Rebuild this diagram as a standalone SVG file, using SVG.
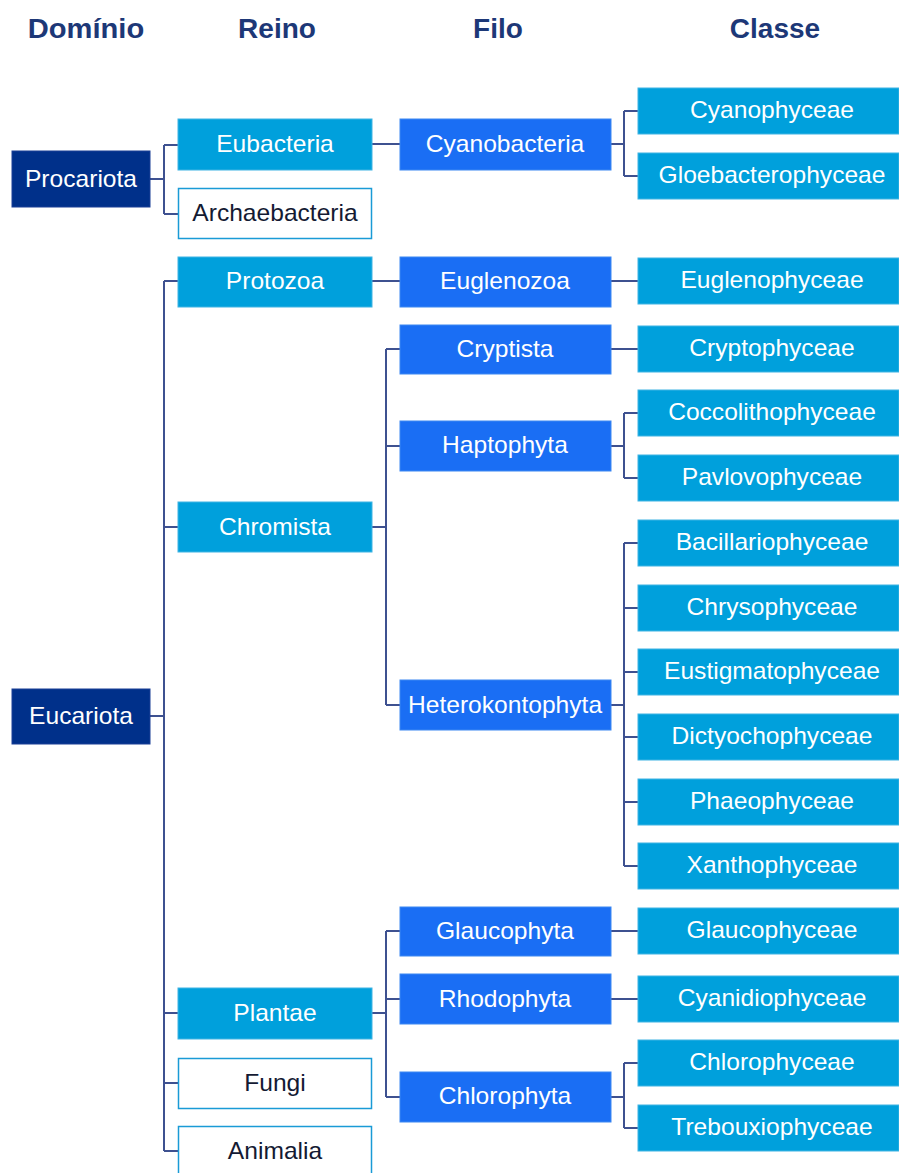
<svg xmlns="http://www.w3.org/2000/svg" width="899" height="1173" viewBox="0 0 899 1173">
<style>
.hd{font-family:"Liberation Sans",Arial,sans-serif;font-weight:bold;font-size:28px;fill:#1d3877;text-anchor:middle}
.t{font-family:"Liberation Sans",Arial,sans-serif;font-size:23px;fill:#ffffff;text-anchor:middle}
.tk{fill:#141a33}
.dom{fill:#00308a;stroke:#1a3f96;stroke-width:1}
.rei{fill:#00a0dc;stroke:#3fb4e3;stroke-width:1}
.fil{fill:#1a6ef4;stroke:#3d88f2;stroke-width:1}
.cls{fill:#00a0dc;stroke:#3fb4e3;stroke-width:1}
.wht{fill:#ffffff;stroke:#1a9bd6;stroke-width:1.5}
.c{fill:none;stroke:#3e5190;stroke-width:2}
</style>
<g id="headers">
<text class="hd" transform="translate(86 38) scale(1.04 1)">Domínio</text>
<text class="hd" x="277" y="38">Reino</text>
<text class="hd" x="498" y="38">Filo</text>
<text class="hd" x="775" y="38">Classe</text>
</g>
<g id="connectors">
<path class="c" d="M150 179H164M164 145V214M164 145H178M164 214H178"/>
<path class="c" d="M372 144H400"/>
<path class="c" d="M611 144H624M624 111V176M624 111H638M624 176H638"/>
<path class="c" d="M150 716H164M164 281V1151M164 281H178M164 527H178M164 1013H178M164 1083H178M164 1151H178"/>
<path class="c" d="M372 281H400M611 281H638"/>
<path class="c" d="M372 527H386M386 349V705M386 349H400M386 446H400M386 705H400"/>
<path class="c" d="M611 349H638"/>
<path class="c" d="M611 446H624M624 413V478M624 413H638M624 478H638"/>
<path class="c" d="M611 705H624M624 543V866M624 543H638M624 608H638M624 672H638M624 737H638M624 802H638M624 866H638"/>
<path class="c" d="M372 1013H386M386 931V1097M386 931H400M386 999H400M386 1097H400"/>
<path class="c" d="M611 931H638M611 999H638"/>
<path class="c" d="M611 1097H624M624 1063V1128M624 1063H638M624 1128H638"/>
</g>
<g id="procariota"><rect class="dom" x="12" y="151" width="138" height="56"/><text class="t" transform="translate(81 187) scale(1.07 1)">Procariota</text></g>
<g id="eucariota"><rect class="dom" x="12" y="689" width="138" height="55"/><text class="t" transform="translate(81 724) scale(1.07 1)">Eucariota</text></g>
<g id="eubacteria"><rect class="rei" x="178" y="119" width="194" height="51"/><text class="t" transform="translate(275 152) scale(1.07 1)">Eubacteria</text></g>
<g id="archaebacteria"><rect class="wht" x="178.5" y="188.5" width="193" height="50"/><text class="t tk" transform="translate(275 221) scale(1.07 1)">Archaebacteria</text></g>
<g id="protozoa"><rect class="rei" x="178" y="257" width="194" height="50"/><text class="t" transform="translate(275 289) scale(1.07 1)">Protozoa</text></g>
<g id="chromista"><rect class="rei" x="178" y="502" width="194" height="50"/><text class="t" transform="translate(275 535) scale(1.07 1)">Chromista</text></g>
<g id="plantae"><rect class="rei" x="178" y="988" width="194" height="51"/><text class="t" transform="translate(275 1021) scale(1.07 1)">Plantae</text></g>
<g id="fungi"><rect class="wht" x="178.5" y="1058.5" width="193" height="50"/><text class="t tk" transform="translate(275 1091) scale(1.07 1)">Fungi</text></g>
<g id="animalia"><rect class="wht" x="178.5" y="1126.5" width="193" height="52"/><text class="t tk" transform="translate(275 1159) scale(1.07 1)">Animalia</text></g>
<g id="cyanobacteria"><rect class="fil" x="400" y="119" width="211" height="51"/><text class="t" transform="translate(505 152) scale(1.07 1)">Cyanobacteria</text></g>
<g id="euglenozoa"><rect class="fil" x="400" y="257" width="211" height="50"/><text class="t" transform="translate(505 289) scale(1.07 1)">Euglenozoa</text></g>
<g id="cryptista"><rect class="fil" x="400" y="325" width="211" height="49"/><text class="t" transform="translate(505 357) scale(1.07 1)">Cryptista</text></g>
<g id="haptophyta"><rect class="fil" x="400" y="421" width="211" height="50"/><text class="t" transform="translate(505 453) scale(1.07 1)">Haptophyta</text></g>
<g id="heterokontophyta"><rect class="fil" x="400" y="680" width="211" height="50"/><text class="t" transform="translate(505 713) scale(1.07 1)">Heterokontophyta</text></g>
<g id="glaucophyta"><rect class="fil" x="400" y="907" width="211" height="49"/><text class="t" transform="translate(505 939) scale(1.07 1)">Glaucophyta</text></g>
<g id="rhodophyta"><rect class="fil" x="400" y="974" width="211" height="50"/><text class="t" transform="translate(505 1007) scale(1.07 1)">Rhodophyta</text></g>
<g id="chlorophyta"><rect class="fil" x="400" y="1072" width="211" height="50"/><text class="t" transform="translate(505 1104) scale(1.07 1)">Chlorophyta</text></g>
<g id="cyanophyceae"><rect class="cls" x="638" y="88" width="261" height="46"/><text class="t" transform="translate(772 118) scale(1.07 1)">Cyanophyceae</text></g>
<g id="gloebacterophyceae"><rect class="cls" x="638" y="153" width="261" height="46"/><text class="t" transform="translate(772 183) scale(1.07 1)">Gloebacterophyceae</text></g>
<g id="euglenophyceae"><rect class="cls" x="638" y="258" width="261" height="46"/><text class="t" transform="translate(772 288) scale(1.07 1)">Euglenophyceae</text></g>
<g id="cryptophyceae"><rect class="cls" x="638" y="326" width="261" height="46"/><text class="t" transform="translate(772 356) scale(1.07 1)">Cryptophyceae</text></g>
<g id="coccolithophyceae"><rect class="cls" x="638" y="390" width="261" height="46"/><text class="t" transform="translate(772 420) scale(1.07 1)">Coccolithophyceae</text></g>
<g id="pavlovophyceae"><rect class="cls" x="638" y="455" width="261" height="46"/><text class="t" transform="translate(772 485) scale(1.07 1)">Pavlovophyceae</text></g>
<g id="bacillariophyceae"><rect class="cls" x="638" y="520" width="261" height="46"/><text class="t" transform="translate(772 550) scale(1.07 1)">Bacillariophyceae</text></g>
<g id="chrysophyceae"><rect class="cls" x="638" y="585" width="261" height="46"/><text class="t" transform="translate(772 615) scale(1.07 1)">Chrysophyceae</text></g>
<g id="eustigmatophyceae"><rect class="cls" x="638" y="649" width="261" height="46"/><text class="t" transform="translate(772 679) scale(1.07 1)">Eustigmatophyceae</text></g>
<g id="dictyochophyceae"><rect class="cls" x="638" y="714" width="261" height="46"/><text class="t" transform="translate(772 744) scale(1.07 1)">Dictyochophyceae</text></g>
<g id="phaeophyceae"><rect class="cls" x="638" y="779" width="261" height="46"/><text class="t" transform="translate(772 809) scale(1.07 1)">Phaeophyceae</text></g>
<g id="xanthophyceae"><rect class="cls" x="638" y="843" width="261" height="46"/><text class="t" transform="translate(772 873) scale(1.07 1)">Xanthophyceae</text></g>
<g id="glaucophyceae"><rect class="cls" x="638" y="908" width="261" height="46"/><text class="t" transform="translate(772 938) scale(1.07 1)">Glaucophyceae</text></g>
<g id="cyanidiophyceae"><rect class="cls" x="638" y="976" width="261" height="46"/><text class="t" transform="translate(772 1006) scale(1.07 1)">Cyanidiophyceae</text></g>
<g id="chlorophyceae"><rect class="cls" x="638" y="1040" width="261" height="46"/><text class="t" transform="translate(772 1070) scale(1.07 1)">Chlorophyceae</text></g>
<g id="trebouxiophyceae"><rect class="cls" x="638" y="1105" width="261" height="46"/><text class="t" transform="translate(772 1135) scale(1.07 1)">Trebouxiophyceae</text></g>
</svg>
